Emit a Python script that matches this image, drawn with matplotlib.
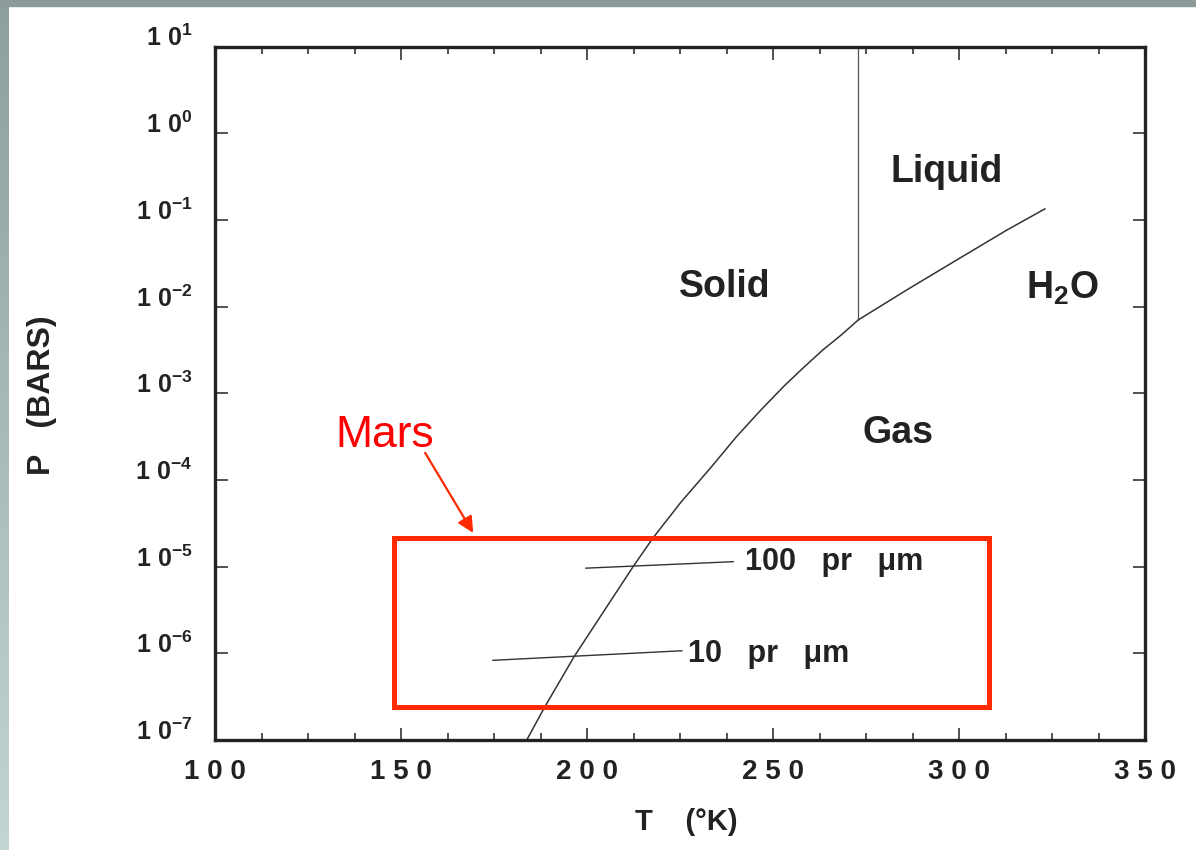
import numpy as np
import matplotlib
matplotlib.use('Agg')
import matplotlib.pyplot as plt
from matplotlib.patches import Rectangle
from matplotlib.ticker import MultipleLocator, NullLocator

# fonts: bold Arial-like everywhere, mathtext too (for 10^n and H2O)
plt.rcParams['font.family'] = ['Liberation Sans', 'DejaVu Sans']
plt.rcParams['mathtext.fontset'] = 'custom'
plt.rcParams['mathtext.rm'] = 'Liberation Sans:bold'
plt.rcParams['mathtext.it'] = 'Liberation Sans:bold'
plt.rcParams['mathtext.bf'] = 'Liberation Sans:bold'

# ice / vapour boundary (sublimation curve)
subl_T = [183.8, 188.7, 196.5, 204.4, 212.4, 217.8, 225.3, 233.1, 240.2, 246.5,
          252.8, 258.1, 263.4, 268.5, 272.9]
subl_P = [1.0e-7, 2.43e-7, 9.1e-7, 3.0e-6, 1.0e-5, 2.16e-5, 5.57e-5, 1.36e-4, 3.16e-4, 6.25e-4,
          1.19e-3, 1.96e-3, 3.16e-3, 4.76e-3, 7.0e-3]

# liquid / vapour boundary
evap_T = [272.9, 285.9, 299.4, 312.8, 323.1]
evap_P = [7.0e-3, 1.55e-2, 3.45e-2, 7.6e-2, 0.134]

# solid / liquid boundary (vertical line at the melting point)
melt_T = [272.9, 272.9]
melt_P = [7.0e-3, 10.0]

# precipitable-water lines
pr10_T = [174.7, 225.5]
pr10_P = [8.3e-7, 1.07e-6]
pr100_T = [199.7, 239.3]
pr100_P = [9.6e-6, 1.14e-5]

# Mars box (T range, P range)
mars_T = [148.1, 308.1]
mars_P = [2.41e-7, 2.14e-5]

xticks = [100, 150, 200, 250, 300, 350]
xticklabels = ['1 0 0', '1 5 0', '2 0 0', '2 5 0', '3 0 0', '3 5 0']
yexps = [-7, -6, -5, -4, -3, -2, -1, 0, 1]

ink = '#222222'
red = '#ff2a00'

fig = plt.figure(figsize=(11.96, 8.5), dpi=100)

# slide frame: grey strip on top and a gradient strip on the left
fig.patches.append(Rectangle((0, 1 - 6 / 850), 1, 6 / 850, transform=fig.transFigure,
                             color='#8c9b99', zorder=0))
band = fig.add_axes([0, 0, 8.5 / 1196, 1 - 6 / 850])
band.imshow(np.linspace(0, 1, 100).reshape(-1, 1), aspect='auto',
            cmap=matplotlib.colors.LinearSegmentedColormap.from_list('b', ['#8f9f9d', '#c4d4d3']))
band.axis('off')

ax = fig.add_axes([215 / 1196, 110 / 850, 930 / 1196, 693.5 / 850])
ax.set_yscale('log')
ax.set_xlim(100, 350)
ax.set_ylim(1e-7, 1e1)

ax.plot(subl_T, subl_P, color='#333333', lw=1.1)
ax.plot(evap_T, evap_P, color='#333333', lw=1.1)
ax.plot(melt_T, melt_P, color='#555555', lw=0.9)
ax.plot(pr10_T, pr10_P, color='#333333', lw=1.0)
ax.plot(pr100_T, pr100_P, color='#333333', lw=1.0)

ax.add_patch(Rectangle((mars_T[0], mars_P[0]), mars_T[1] - mars_T[0], mars_P[1] - mars_P[0],
                       fill=False, edgecolor=red, lw=3.6, zorder=5))

bold = dict(fontweight='bold', color=ink)
ax.text(237.1, 1.30e-2, 'Solid', fontsize=27, ha='center', va='baseline', **bold)
ax.text(296.8, 0.273, 'Liquid', fontsize=27, ha='center', va='baseline', **bold)
ax.text(283.6, 2.67e-4, 'Gas', fontsize=27, ha='center', va='baseline', **bold)
ax.text(327.7, 1.22e-2, r'$\mathrm{H_2O}$', fontsize=27, ha='center', va='baseline', color=ink)
ax.text(242.5, 9.16e-6, '100   pr   \u03bcm', fontsize=22, ha='left', va='baseline', **bold)
ax.text(227.2, 8.0e-7, '10   pr   \u03bcm', fontsize=22, ha='left', va='baseline', **bold)

ax.text(145.7, 2.41e-4, 'Mars', fontsize=32, color='#ff0000', ha='center', va='baseline')
ax.annotate('', xy=(169.4, 2.45e-5), xytext=(156.5, 2.05e-4),
            arrowprops=dict(arrowstyle='-|>', color=red, lw=1.6, mutation_scale=24,
                            shrinkA=0, shrinkB=0))

# axes styling
for s in ax.spines.values():
    s.set_linewidth(2.4)
    s.set_color(ink)
ax.set_xticks(xticks, xticklabels)
ax.xaxis.set_minor_locator(MultipleLocator(12.5))
ax.set_yticks([10.0 ** e for e in yexps], [r'$1\ 0^{%d}$' % e for e in yexps])
ax.yaxis.set_minor_locator(NullLocator())
ax.tick_params(which='both', direction='in', top=True, right=True, color=ink, width=1.1)
ax.tick_params(which='major', length=9)
ax.tick_params(which='minor', length=5)
ax.tick_params(axis='x', labelsize=20, pad=14, labelcolor=ink)
ax.tick_params(axis='y', labelsize=18, pad=16, labelcolor=ink)
for lab in ax.get_xticklabels():
    lab.set_fontweight('bold')
for lab in ax.get_yticklabels():
    lab.set_va('baseline')

ax.set_xlabel('T    (\u00b0K)', fontsize=21, fontweight='bold', color=ink, va='center')
ax.xaxis.set_label_coords((686 - 215) / 930, -(822 - 740) / 693.5)
ax.set_ylabel('P   (BARS)', fontsize=23, fontweight='bold', color=ink, va='center')
ax.yaxis.set_label_coords((42.5 - 215) / 930, 0.5 - (395 - 393) / 693.5)

fig.savefig('out.png', dpi=100)
